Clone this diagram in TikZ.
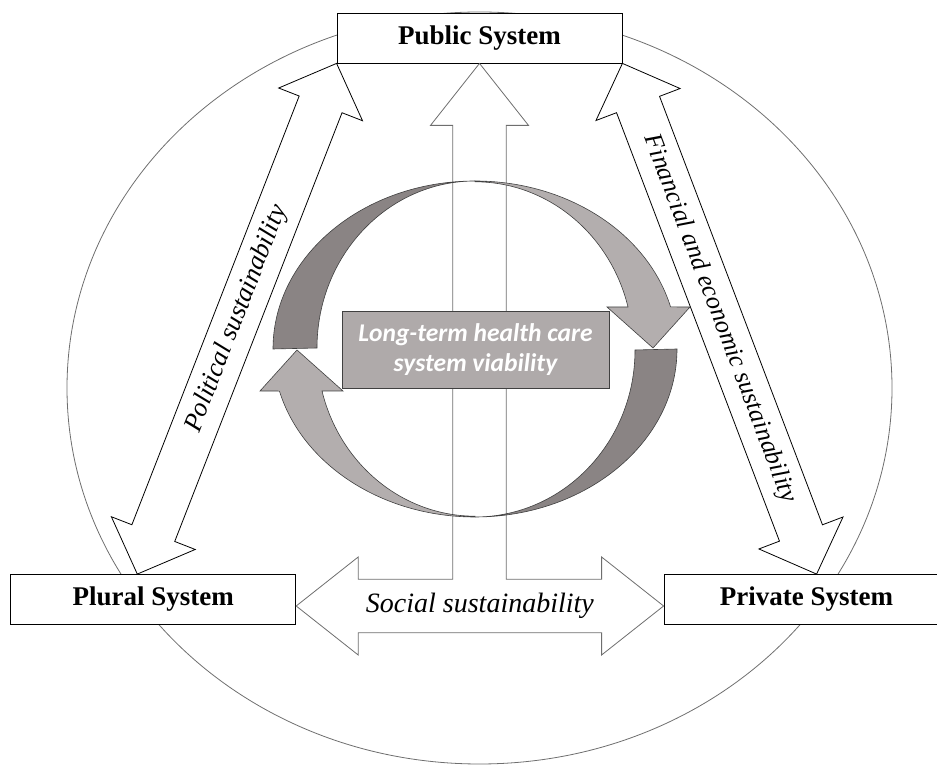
\documentclass[tikz,border=0pt]{standalone}
\usepackage{fontspec}
\setmainfont{Liberation Serif}
\newfontfamily\calibrifont{Carlito}
\usetikzlibrary{calc}
\definecolor{ring-dunkel}{HTML}{8A8484}
\definecolor{ring-hell}{HTML}{B3AEAE}
\definecolor{kasten-grau}{HTML}{AFAAAA}
\definecolor{rand-grau}{HTML}{6E6E6E}

\tikzset{
  sysbox/.style={draw=black, fill=white, line width=0.8pt, minimum width=285pt,
    minimum height=50pt, inner sep=0pt, font=\fontsize{27}{30}\selectfont\bfseries},
  hollow/.style={draw=black, fill=white, line width=0.8pt},
  hollowgray/.style={draw=rand-grau, fill=white, line width=0.8pt},
  band/.style={draw=black!75, line width=0.6pt},
  sustlabel/.style={font=\fontsize{26}{30}\selectfont\itshape},
}

% Doppelpfeil zwischen zwei Punkten
\newcommand\fatarrow[2]{%
  \coordinate (h1) at ($(#1)!\dhl!(#2)$);
  \coordinate (h2) at ($(#2)!\dhl!(#1)$);
  \draw[hollow] (#1) -- ($(h1)!\dhw!90:(#2)$) -- ($(h1)!\dsw!90:(#2)$)
    -- ($(h2)!\dsw!-90:(#1)$) -- ($(h2)!\dhw!-90:(#1)$) -- (#2)
    -- ($(h2)!\dhw!90:(#1)$) -- ($(h2)!\dsw!90:(#1)$)
    -- ($(h1)!\dsw!-90:(#2)$) -- ($(h1)!\dhw!-90:(#2)$) -- cycle;
}

\begin{document}
\begin{tikzpicture}[x=1pt, y=1pt]
    \useasboundingbox (0,0) rectangle (937,765);

    % Aeussere Ellipse
    \draw[rand-grau, line width=0.8pt] (479.5,377) ellipse [x radius=412.5, y radius=376];

    % Die drei Systeme
    \node[sysbox] (public) at (479.5,727) {Public System};
    \node[sysbox] (plural) at (153.3,165.5) {Plural System};
    \node[sysbox] (private) at (806.5,165.5) {Private System};

    % Schraege Doppelpfeile
    \def\dhl{44pt}
    \def\dhw{45pt}
    \def\dsw{23pt}
    \coordinate (polA) at ([xshift=-16pt]plural.north);
    \coordinate (polB) at (public.south west);
    \coordinate (finA) at (public.south east);
    \coordinate (finB) at ([xshift=153pt]private.north west);
    \fatarrow{polA}{polB}
    \fatarrow{finA}{finB}
    \path (polA) -- (polB) node[midway, sloped, sustlabel, font=\fontsize{26.5}{30}\selectfont\itshape] {Political sustainability};
    \path (finA) -- (finB) node[midway, sloped, sustlabel, font=\fontsize{25.5}{30}\selectfont\itshape] {Financial and economic sustainability};

    % Pfeil nach oben und Doppelpfeil unten
    \def\hl{62}
    \def\hw{49}
    \def\sw{26.7}
    \coordinate (up) at (public.south);
    \coordinate (sl) at ([yshift=-6.5pt]plural.east);
    \coordinate (sr) at ([yshift=-6.5pt]private.west);
    \coordinate (a2) at ($(sl)+(\hl,\sw)$);
    \coordinate (b2) at ($(sr)+(-\hl,\sw)$);
    \coordinate (ul) at ($(up)+(-\sw,-\hl)$);
    \coordinate (ur) at ($(up)+(\sw,-\hl)$);
    \draw[hollowgray] (sl) -- ++(\hl,\hw) -- (a2) -- (ul |- a2) -- (ul) -- ++({\sw-\hw},0)
        -- (up) -- ++({\hw},{-\hl}) -- (ur) -- (ur |- b2) -- (b2) -- ++(0,{\hw-\sw})
        -- (sr) -- ++({-\hl},{-\hw}) -- ++(0,{\hw-\sw}) -- ($(sl)+(\hl,-\sw)$)
        -- ++(0,{\sw-\hw}) -- cycle;
    \path (sl) -- (sr) node[midway, sustlabel, font=\fontsize{28}{30}\selectfont\itshape] {Social sustainability};

    % Kreislauf in der Mitte
    \coordinate (c) at (475,416);
    \filldraw[band, fill=ring-hell] ($(c)+(0,168)$) arc[start angle=90, end angle=14.5, x radius=202, y radius=168]
        -- ($(c)+(215,42)$) -- ($(c)+(178,1)$) -- ($(c)+(132,42)$) -- ($(c)+(153,42)$)
        arc[start angle=14.5, end angle=90, x radius=158, y radius=167] -- cycle;
    \filldraw[band, fill=ring-hell] ($(c)+(0,-168)$) arc[start angle=270, end angle=194.5, x radius=202, y radius=168]
        -- ($(c)+(-215,-42)$) -- ($(c)+(-178,-1)$) -- ($(c)+(-132,-42)$) -- ($(c)+(-153,-42)$)
        arc[start angle=194.5, end angle=270, x radius=158, y radius=167] -- cycle;
    \filldraw[band, fill=ring-dunkel] ($(c)+(-202,0)$) arc[start angle=180, end angle=90, x radius=202, y radius=168]
        arc[start angle=90, end angle=180, x radius=158, y radius=167] -- cycle;
    \filldraw[band, fill=ring-dunkel] ($(c)+(202,0)$) arc[start angle=0, end angle=-90, x radius=202, y radius=168]
        arc[start angle=-90, end angle=0, x radius=160, y radius=167] -- cycle;

    \node[draw=black!75, fill=kasten-grau, line width=0.8pt, minimum width=267pt, minimum height=77pt,
        align=center, text=white, font=\calibrifont\fontsize{25.5}{30}\selectfont\bfseries\itshape]
        (viab) at (475.5,415.5) {Long-term health care\\system viability};
\end{tikzpicture}
\end{document}
